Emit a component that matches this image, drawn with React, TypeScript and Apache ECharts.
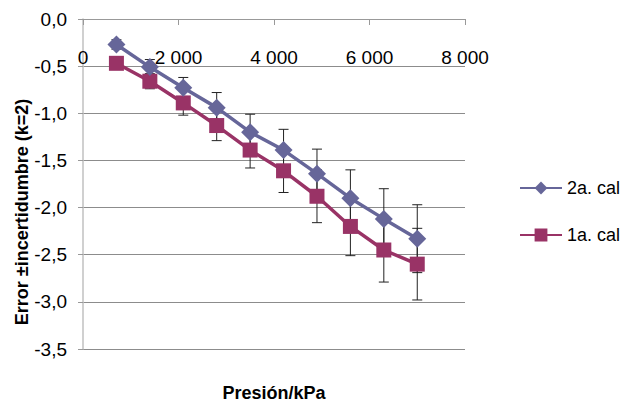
import React, { useEffect, useRef } from "react";
import * as echarts from "echarts";

const pressures = [700, 1400, 2100, 2800, 3500, 4200, 4900, 5600, 6300, 7000];
const cal2 = [-0.27, -0.51, -0.73, -0.94, -1.2, -1.39, -1.64, -1.9, -2.12, -2.33];
const cal1 = [-0.47, -0.66, -0.89, -1.13, -1.39, -1.61, -1.88, -2.2, -2.45, -2.6];
const err2 = [0.05, 0.08, 0.11, 0.16, 0.19, 0.22, 0.26, 0.3, 0.32, 0.36];
const err1 = [0.05, 0.08, 0.13, 0.16, 0.19, 0.23, 0.28, 0.31, 0.34, 0.38];
const seriesNames = ["2a. cal", "1a. cal"];
const yTitle = "Error ±incertidumbre (k=2)";
const xTitle = "Presión/kPa";

const FONT = "'Liberation Sans Narrow', 'Liberation Sans', sans-serif";

const fmtY = (v: number) => {
  const s = Math.abs(v).toFixed(1).replace(".", ",");
  return (v < -1e-9 ? "-" : "") + s;
};
const fmtX = (v: number) => {
  if (v === 0) return "0";
  const s = String(Math.round(v));
  return s.replace(/\B(?=(\d{3})+(?!\d))/g, " ");
};

const errorSeries = (name: string, ys: number[], es: number[]) => ({
  type: "custom",
  name: name + " err",
  z: 1,
  silent: true,
  data: pressures.map((x, i) => [x, ys[i], es[i]]),
  encode: { x: 0, y: 1 },
  renderItem: (_params: any, api: any) => {
    const x = api.value(0);
    const y = api.value(1);
    const e = api.value(2);
    const top = api.coord([x, y + e]);
    const bot = api.coord([x, y - e]);
    const hw = 5;
    const style = { stroke: "#222", lineWidth: 1 };
    return {
      type: "group",
      children: [
        { type: "line", shape: { x1: top[0], y1: top[1], x2: bot[0], y2: bot[1] }, style },
        { type: "line", shape: { x1: top[0] - hw, y1: top[1], x2: top[0] + hw, y2: top[1] }, style },
        { type: "line", shape: { x1: bot[0] - hw, y1: bot[1], x2: bot[0] + hw, y2: bot[1] }, style },
      ],
    };
  },
});

export default function App() {
  const ref = useRef<HTMLDivElement>(null);
  useEffect(() => {
    if (!ref.current) return;
    const chart = echarts.init(ref.current, undefined, { renderer: "svg" });
    chart.setOption({
      animation: false,
      backgroundColor: "#fff",
      grid: { left: 83, top: 19, width: 382, height: 330, containLabel: false },
      legend: {
        data: seriesNames,
        orient: "vertical",
        left: 514,
        top: 173,
        itemWidth: 42,
        itemHeight: 16,
        itemGap: 27,
        textStyle: { fontFamily: FONT, fontSize: 18, color: "#000", lineHeight: 20 },
      },
      xAxis: {
        type: "value",
        position: "top",
        min: 0,
        max: 8000,
        interval: 2000,
        axisLine: { show: true, lineStyle: { color: "#999", width: 1 } },
        axisTick: { show: true, inside: true, length: 6, lineStyle: { color: "#999" } },
        axisLabel: {
          inside: true,
          margin: 29,
          formatter: fmtX,
          fontFamily: FONT,
          fontSize: 19,
          color: "#000",
        },
        splitLine: { show: false },
      },
      yAxis: {
        type: "value",
        min: -3.5,
        max: 0,
        interval: 0.5,
        axisLine: { show: true, onZero: false, lineStyle: { color: "#c0c0c0", width: 1.5 } },
        axisTick: { show: true, length: 5, lineStyle: { color: "#999" } },
        axisLabel: { formatter: fmtY, margin: 16, fontFamily: FONT, fontSize: 19, color: "#000" },
        splitLine: { show: true, lineStyle: { color: "#8c8c8c", width: 1 } },
      },
      graphic: [
        {
          type: "text",
          x: 22,
          y: 212,
          rotation: Math.PI / 2,
          style: {
            text: yTitle,
            x: 0,
            y: 0,
            textAlign: "center",
            textVerticalAlign: "middle",
            fontFamily: FONT,
            fontSize: 18,
            fontWeight: "bold",
            fill: "#000",
          },
        },
        {
          type: "text",
          style: {
            text: xTitle,
            x: 274,
            y: 393,
            textAlign: "center",
            textVerticalAlign: "middle",
            fontFamily: FONT,
            fontSize: 18,
            fontWeight: "bold",
            fill: "#000",
          },
        },
      ],
      series: [
        errorSeries(seriesNames[0], cal2, err2),
        errorSeries(seriesNames[1], cal1, err1),
        {
          type: "line",
          name: seriesNames[0],
          z: 3,
          data: pressures.map((x, i) => [x, cal2[i]]),
          symbol: "diamond",
          symbolSize: 18,
          itemStyle: { color: "#666699" },
          lineStyle: { color: "#666699", width: 3.5 },
        },
        {
          type: "line",
          name: seriesNames[1],
          z: 2,
          data: pressures.map((x, i) => [x, cal1[i]]),
          symbol: "rect",
          symbolSize: 15,
          itemStyle: { color: "#993366" },
          lineStyle: { color: "#993366", width: 3.5 },
        },
      ],
    });
    return () => chart.dispose();
  }, []);
  return (
    <div
      ref={ref}
      style={{ position: "fixed", left: 0, top: 0, width: 620, height: 402 }}
    />
  );
}
